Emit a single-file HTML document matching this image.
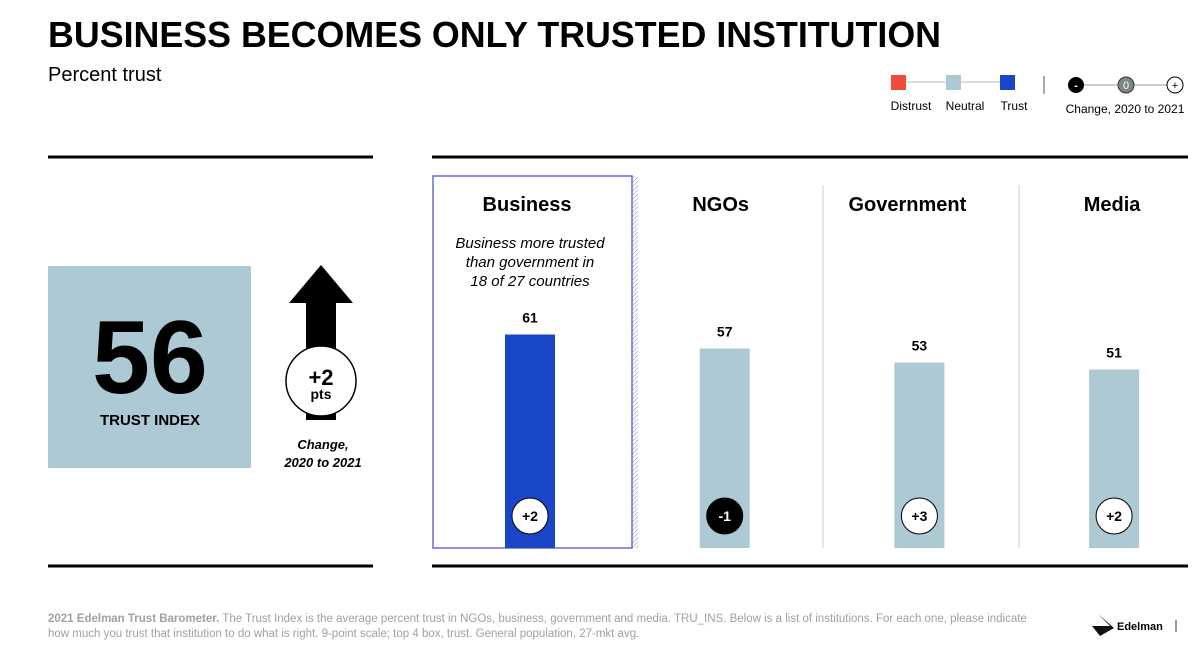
<!DOCTYPE html>
<html><head><meta charset="utf-8">
<style>
body{margin:0;width:1200px;height:657px;background:#fff;font-family:"Liberation Sans",Arial,sans-serif;position:relative;overflow:hidden;color:#000}
.abs{position:absolute}
</style></head>
<body>
<div class="abs" style="left:48px;top:15px;font-size:35.8px;font-weight:bold;letter-spacing:0px">BUSINESS BECOMES ONLY TRUSTED INSTITUTION</div>
<div class="abs" style="left:48px;top:64px;font-size:20px">Percent trust</div>

<svg class="abs" style="left:0;top:0" width="1200" height="657">
  <g font-size="12" font-family="Liberation Sans">
    <line x1="898" y1="82" x2="1008" y2="82" stroke="#bbb"/>
    <rect x="891" y="75" width="15" height="15" fill="#f04a3a"/>
    <rect x="946" y="75" width="15" height="15" fill="#adc9d3"/>
    <rect x="1000" y="75" width="15" height="15" fill="#1a47c8"/>
    <text x="911" y="110" text-anchor="middle">Distrust</text>
    <text x="965" y="110" text-anchor="middle">Neutral</text>
    <text x="1014" y="110" text-anchor="middle">Trust</text>
    <line x1="1044" y1="76" x2="1044" y2="94" stroke="#555"/>
    <line x1="1076" y1="85" x2="1175" y2="85" stroke="#999"/>
    <circle cx="1076" cy="85" r="8" fill="#000"/><text x="1076" y="89" fill="#fff" text-anchor="middle" font-size="11" font-weight="bold">-</text>
    <circle cx="1126" cy="85" r="8" fill="#7b8786" stroke="#333"/><text x="1126" y="89" fill="#fff" text-anchor="middle" font-size="11">0</text>
    <circle cx="1175" cy="85" r="8" fill="#fff" stroke="#000"/><text x="1175" y="89" text-anchor="middle" font-size="11">+</text>
    <text x="1125" y="113" text-anchor="middle">Change, 2020 to 2021</text>
  </g>
  <line x1="48" y1="157" x2="373" y2="157" stroke="#000" stroke-width="3"/>
  <line x1="48" y1="566" x2="373" y2="566" stroke="#000" stroke-width="3"/>
  <line x1="432" y1="157" x2="1188" y2="157" stroke="#000" stroke-width="3"/>
  <line x1="432" y1="566" x2="1188" y2="566" stroke="#000" stroke-width="3"/>
  <rect x="48" y="266" width="203" height="202" fill="#adc9d3"/>
  <text x="150" y="393" text-anchor="middle" font-size="104" font-weight="bold">56</text>
  <text x="150" y="425" text-anchor="middle" font-size="15" font-weight="bold">TRUST INDEX</text>
  <g>
    <polygon points="321,265 353,303 336,303 336,420 306,420 306,303 289,303" fill="#000"/>
    <circle cx="321" cy="381" r="35" fill="#fff" stroke="#000" stroke-width="1.5"/>
    <text x="321" y="385" text-anchor="middle" font-size="22" font-weight="bold">+2</text>
    <text x="321" y="399" text-anchor="middle" font-size="14" font-weight="bold">pts</text>
    <text x="323" y="449" text-anchor="middle" font-size="13" font-weight="bold" font-style="italic">Change,</text>
    <text x="323" y="467" text-anchor="middle" font-size="13" font-weight="bold" font-style="italic">2020 to 2021</text>
  </g>
  <defs><pattern id="hatch" width="3" height="3" patternUnits="userSpaceOnUse" patternTransform="rotate(45)"><line x1="0" y1="0" x2="0" y2="3" stroke="#8080d0" stroke-width="1"/></pattern></defs>
  <rect x="632" y="176" width="6" height="372" fill="url(#hatch)"/>
  <line x1="823" y1="185" x2="823" y2="548" stroke="#ccc"/>
  <line x1="1019" y1="185" x2="1019" y2="548" stroke="#ccc"/>
  <rect x="433" y="176" width="199" height="372" fill="none" stroke="#6a6ad8" stroke-width="1.5"/>
  <text x="530" y="248" text-anchor="middle" font-size="15" font-style="italic">Business more trusted</text>
  <text x="530" y="267" text-anchor="middle" font-size="15" font-style="italic">than government in</text>
  <text x="530" y="286" text-anchor="middle" font-size="15" font-style="italic">18 of 27 countries</text>
  <g id="bars"></g>
</svg>

<div class="abs" style="left:48px;top:612px;font-size:11.5px;color:#a0a0a0;line-height:15px;width:1000px"><b>2021 Edelman Trust Barometer.</b> The Trust Index is the average percent trust in NGOs, business, government and media. TRU_INS. Below is a list of institutions. For each one, please indicate how much you trust that institution to do what is right. 9-point scale; top 4 box, trust. General population, 27-mkt avg.</div>
<svg class="abs" style="left:1090px;top:612px" width="100" height="30">
  <polygon points="8,2 20,14 2,14 10,24 24,16" fill="#111"/>
  <text x="27" y="18" font-size="11" font-weight="bold" font-family="Liberation Sans">Edelman</text>
  <line x1="86" y1="8" x2="86" y2="20" stroke="#333"/>
</svg>

<script>
const categories=["Business","NGOs","Government","Media"];
const trustValues=[61,57,53,51];
const changeLabels=["+2","-1","+3","+2"];
const ns="http://www.w3.org/2000/svg";
const g=document.getElementById('bars');
const x=i=>530+i*194.7;
const y=v=>548-v*3.5;
const headerShift=[-3,-4,-12,-2];
function mk(t,a){const e=document.createElementNS(ns,t);for(const k in a)e.setAttribute(k,a[k]);g.appendChild(e);return e;}
categories.forEach((c,i)=>{
  const cx=x(i);
  const h=mk('text',{x:cx+headerShift[i],y:211,'text-anchor':'middle','font-size':20,'font-weight':'bold'});h.textContent=c;
  
  
  const b=mk('rect',{x:cx-25,y:y(trustValues[i]),width:50,height:548-y(trustValues[i]),fill:i===0?'#1a47c8':'#adc9d3'});
  
  
  const v=mk('text',{x:cx,y:y(trustValues[i])-12,'text-anchor':'middle','font-size':14,'font-weight':'bold'});v.textContent=trustValues[i];
  
  
  const neg=changeLabels[i].startsWith('-');
  const cc=mk('circle',{cx:cx,cy:516,r:18,fill:neg?'#000':'#fff',stroke:'#000','stroke-width':1});
  
  
  const ct=mk('text',{x:cx,y:521,'text-anchor':'middle','font-size':14,'font-weight':'bold',fill:neg?'#fff':'#000'});ct.textContent=changeLabels[i];
  
  
});
</script>
</body></html>
